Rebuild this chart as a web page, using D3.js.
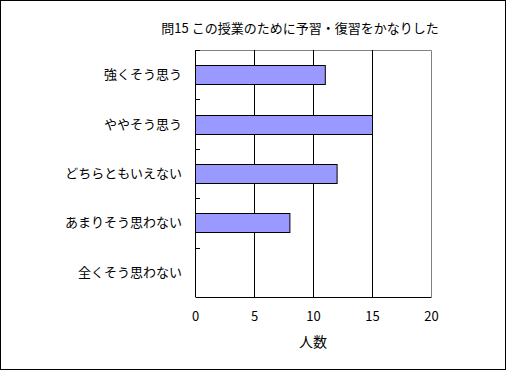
<!DOCTYPE html>
<html>
<head>
<meta charset="utf-8">
<script src="https://cdn.jsdelivr.net/npm/d3@7"></script>
<style>
  body { margin: 0; background: #fff; }
  text { font-family: "Noto Sans CJK JP", sans-serif; }
</style>
</head>
<body>
<div id="chart"></div>
<script>
// data
const categories = ["強くそう思う", "ややそう思う", "どちらともいえない", "あまりそう思わない", "全くそう思わない"];
const counts = [11, 15, 12, 8, 0];
const xTicks = [0, 5, 10, 15, 20];
const title = "問15 この授業のために予習・復習をかなりした";
const xTitle = "人数";

const width = 506, height = 370;
const margin = { top: 50, right: 75, bottom: 73, left: 195 };
const innerW = width - margin.left - margin.right;
const innerH = height - margin.top - margin.bottom;

const svg = d3.select("#chart").append("svg")
  .attr("width", width)
  .attr("height", height);

// outer frame
svg.append("rect")
  .attr("x", 0.5).attr("y", 0.5)
  .attr("width", width - 1).attr("height", height - 1)
  .attr("fill", "#fff").attr("stroke", "#000");

const g = svg.append("g").attr("transform", `translate(${margin.left},${margin.top})`);

const xScale = d3.scaleLinear().domain([0, 20]).range([0, innerW]);
const yScale = d3.scaleBand().domain(categories).range([0, innerH]).paddingInner(0.615).paddingOuter(0.3075);

// plot area border (top/right gray)
g.append("path")
  .attr("d", `M0.5,0.5H${innerW + 0.5}V${innerH}`)
  .attr("fill", "none").attr("stroke", "#808080");

// gridlines
g.selectAll(".grid").data(xTicks.filter(d => d > 0 && d < 20)).join("line")
  .attr("x1", d => Math.round(xScale(d)) + 0.5).attr("x2", d => Math.round(xScale(d)) + 0.5)
  .attr("y1", 0).attr("y2", innerH)
  .attr("stroke", "#000");

// bars
g.selectAll(".bar").data(counts).join("rect")
  .attr("x", 0.5)
  .attr("y", (d, i) => Math.round(yScale(categories[i])) + 0.5)
  .attr("width", d => xScale(d))
  .attr("height", Math.round(yScale.bandwidth()))
  .attr("fill", "#9999ff")
  .attr("stroke", d => d > 0 ? "#000" : "none");

// y axis with ticks between categories
const step = innerH / categories.length;
g.append("line")
  .attr("x1", 0.5).attr("x2", 0.5).attr("y1", 0).attr("y2", innerH)
  .attr("stroke", "#000");
g.selectAll(".ytick").data(d3.range(categories.length)).join("line")
  .attr("x1", 0).attr("x2", 5)
  .attr("y1", i => Math.round(i * step) + 0.5).attr("y2", i => Math.round(i * step) + 0.5)
  .attr("stroke", "#000");

g.selectAll(".ylabel").data(categories).join("text")
  .attr("x", -13)
  .attr("y", d => yScale(d) + yScale.bandwidth() / 2)
  .attr("dy", "0.35em")
  .attr("text-anchor", "end")
  .style("font-size", "13px")
  .text(d => d);

// x axis
const xAxis = g.append("g")
  .attr("transform", `translate(0,${innerH})`)
  .call(d3.axisBottom(xScale).tickValues(xTicks).tickSize(0).tickPadding(15));
xAxis.select(".domain").attr("stroke", "#000");
xAxis.selectAll("text")
  .style("font-size", "13px")
  .style("font-family", "'Noto Sans CJK JP', sans-serif")
  .attr("fill", "#000");

g.append("text")
  .attr("x", innerW / 2)
  .attr("y", innerH + 50)
  .attr("text-anchor", "middle")
  .style("font-size", "14px")
  .text(xTitle);

svg.append("text")
  .attr("x", 300)
  .attr("y", 33)
  .attr("text-anchor", "middle")
  .style("font-size", "13px")
  .text(title);
</script>
</body>
</html>
